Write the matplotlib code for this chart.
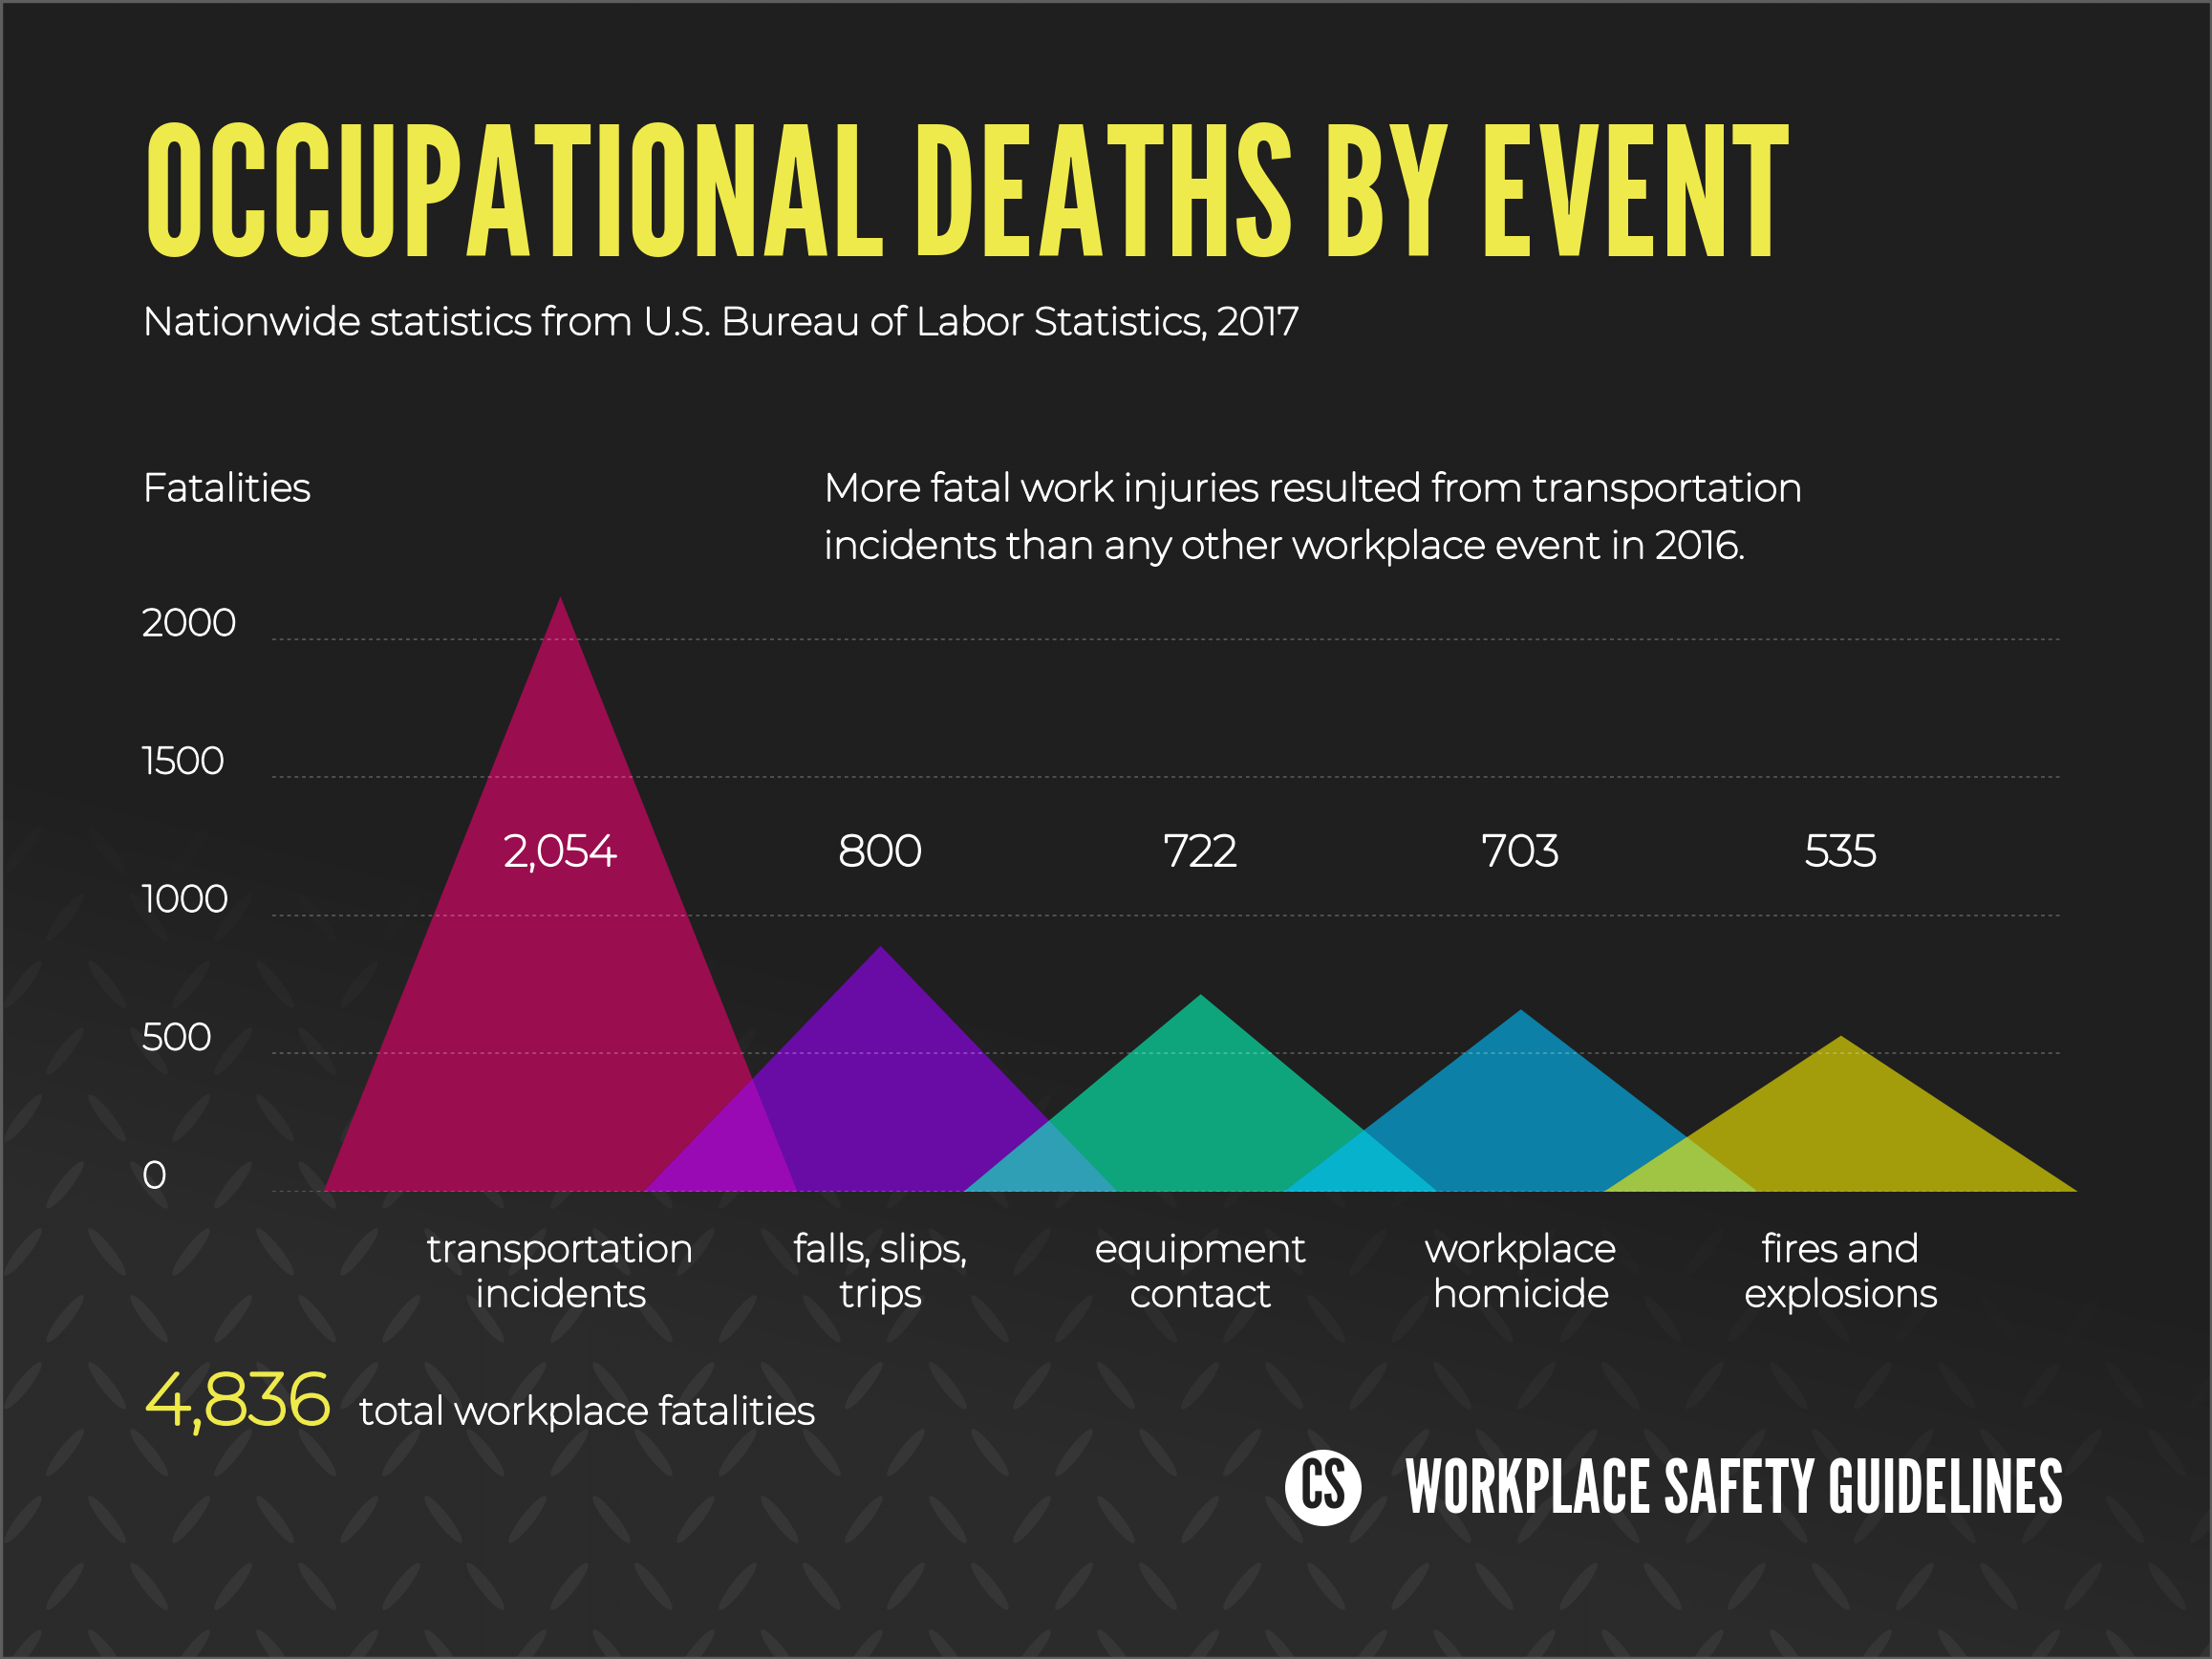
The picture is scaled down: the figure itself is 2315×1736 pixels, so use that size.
import numpy as np
import matplotlib
matplotlib.use('Agg')
import matplotlib.pyplot as plt
import matplotlib.transforms as mtransforms
import matplotlib.patheffects as pe
from matplotlib.patches import Polygon, Ellipse, Circle, Rectangle
from matplotlib.collections import PatchCollection

# DATA
categories = ['transportation\nincidents', 'falls, slips,\ntrips', 'equipment\ncontact',
              'workplace\nhomicide', 'fires and\nexplosions']
fatalities = [2054, 800, 722, 703, 535]
peak_heights = [2155, 890, 715, 660, 565]   # heights the triangles are drawn at in the picture
tri_colors = ['#9a0d4e', '#690ca6', '#0ea57d', '#0c80a7', '#a39c0b']
overlap_colors = ['#9a0ab4', '#2e9fb4', '#07b3cc', '#a0c444']
y_ticks = [0, 500, 1000, 1500, 2000]
total_fatalities = 4836

TITLE = 'OCCUPATIONAL DEATHS BY EVENT'
SUBTITLE = 'Nationwide statistics from U.S. Bureau of Labor Statistics, 2017'
NOTE = ['More fatal work injuries resulted from transportation',
        'incidents than any other workplace event in 2016.']
BRAND = 'WORKPLACE SAFETY GUIDELINES'

YELLOW = '#efea4b'
BG = '#1f1f1f'
BODY = ['Montserrat', 'Open Sans', 'DejaVu Sans']
COND = ['League Gothic', 'Bebas Neue', 'Oswald', 'DejaVu Sans']

W, H = 2315, 1736
fig = plt.figure(figsize=(W / 100, H / 100), dpi=100)
fig.patch.set_facecolor(BG)

# background layer in pixel coords (y down)
bg = fig.add_axes([0, 0, 1, 1])
bg.axis('off')

def shade_at(x, y):
    return np.clip((y - 780 - 0.25 * x) / 450, 0, 1)

yy, xx = np.mgrid[0:H:4, 0:W:4]
lum = (31 + 12 * shade_at(xx, yy)) / 255
bg.imshow(np.dstack([lum] * 3), extent=(0, W, H, 0), interpolation='bilinear', zorder=0)

# diamond plate texture
leaves, fcs = [], []
for j, yc in enumerate(np.arange(-20, H + 60, 70)):
    for i, xc in enumerate(np.arange(-20 + (j % 2) * 44, W + 60, 88)):
        a = shade_at(xc, yc)
        if a <= 0:
            continue
        ang = 52 if (i + j) % 2 == 0 else -52
        leaves.append(Ellipse((xc, yc), 62, 13, angle=ang))
        fcs.append((1, 1, 1, 0.055 * a))
bg.add_collection(PatchCollection(leaves, facecolors=fcs, edgecolors='none', zorder=1))
bg.add_patch(Rectangle((1, 1), W - 2, H - 2, fill=False, ec='#5e5e5e', lw=2.5, zorder=5))
bg.set_xlim(0, W)
bg.set_ylim(H, 0)
bg.set_aspect('auto')

# chart axes
ax = fig.add_axes([285 / W, 1 - 1247 / H, (2158 - 285) / W, (1247 - 611) / H])
ax.set_xlim(-0.9, 4.69)
ax.set_ylim(0, 2200)
ax.set_axis_off()

half = 0.74
xs = np.arange(len(categories))
for x, h, c in zip(xs, peak_heights, tri_colors):
    ax.add_patch(Polygon([(x - half, 0), (x, h), (x + half, 0)], closed=True,
                         fc=c, ec='none', zorder=2, clip_on=False))

# overlapping parts of neighbouring triangles
for i in range(len(xs) - 1):
    h1, h2 = peak_heights[i], peak_heights[i + 1]
    r0, l0 = xs[i] + half, xs[i + 1] - half
    if l0 >= r0:
        continue
    xm = (h1 * r0 + h2 * l0) / (h1 + h2)
    ym = h2 * (xm - l0) / half
    ax.add_patch(Polygon([(l0, 0), (xm, ym), (r0, 0)], closed=True,
                         fc=overlap_colors[i], ec='none', zorder=3, clip_on=False))

for v in y_ticks:
    ax.axhline(v, color=(1, 1, 1, 0.22), lw=1.4, dashes=(2, 2), zorder=4)

renderer = fig.canvas.get_renderer()

def fit_width(t, target):
    for _ in range(3):
        w = t.get_window_extent(renderer).width
        t.set_fontsize(t.get_fontsize() * target / w)
    return t.get_fontsize()

def thicken(t):
    # the installed Montserrat is very thin, give the body text a bit more weight
    t.set_path_effects([pe.withStroke(linewidth=t.get_fontsize() * 0.05,
                                      foreground=t.get_color())])

# y tick labels
tick_tr = mtransforms.blended_transform_factory(bg.transData, ax.transData)
probe = ax.text(149, y_ticks[-1] + 14, str(y_ticks[-1]), transform=tick_tr, color='white',
                family=BODY, fontsize=25, ha='left', va='baseline')
fs_tick = fit_width(probe, 99)
thicken(probe)
for v in y_ticks[:-1]:
    thicken(ax.text(149, v + 14, str(v), transform=tick_tr, color='white', family=BODY,
                    fontsize=fs_tick, ha='left', va='baseline'))

# value labels
vals = [ax.text(x, 1180, f'{v:,}', color='white', family=BODY, fontsize=33,
                ha='center', va='baseline', zorder=6) for x, v in zip(xs, fatalities)]
fs_val = fit_width(vals[0], 118)
for t in vals:
    t.set_fontsize(fs_val)
    thicken(t)

# category labels
cat_tr = mtransforms.blended_transform_factory(ax.transData, bg.transData)
cat_texts = []
for x, name in zip(xs, categories):
    for k, line in enumerate(name.split('\n')):
        cat_texts.append(ax.text(x, 1320 + 47 * k, line, transform=cat_tr, color='white',
                                 family=BODY, fontsize=28, ha='center', va='baseline'))
fs_cat = fit_width(cat_texts[0], 280)
for t in cat_texts:
    t.set_fontsize(fs_cat)
    thicken(t)

# headings
t = bg.text(149, 268, TITLE, color=YELLOW, family=COND, fontsize=150,
            va='baseline', ha='left')
fit_width(t, 1726)
t = bg.text(149, 350, SUBTITLE, color='white', family=BODY, fontsize=28, va='baseline')
fit_width(t, 1209)
thicken(t)
t = bg.text(149, 524, 'Fatalities', color='white', family=BODY, fontsize=28, va='baseline')
fit_width(t, 176)
thicken(t)
t = bg.text(862, 524, NOTE[0], color='white', family=BODY, fontsize=28, va='baseline')
fs_note = fit_width(t, 1025)
thicken(t)
thicken(bg.text(862, 584, NOTE[1], color='white', family=BODY, fontsize=fs_note,
                va='baseline'))

# total
t = bg.text(151, 1490, f'{total_fatalities:,}', color=YELLOW, family=BODY, fontsize=50,
            va='baseline')
fit_width(t, 195)
thicken(t)
t = bg.text(376, 1490, 'total workplace fatalities', color='white', family=BODY,
            fontsize=28, va='baseline')
fit_width(t, 477)
thicken(t)

# brand logo
bg.add_patch(Circle((1385, 1557), 40, fc='white', ec='none', zorder=6))
bg.text(1385, 1559, 'CS', color=BG, family=COND, fontsize=50,
        ha='center', va='center', zorder=7)
t = bg.text(1470, 1583, BRAND, color='white', family=COND, fontsize=60, va='baseline')
fit_width(t, 690)

fig.savefig('out.png', dpi=100, facecolor=BG)
